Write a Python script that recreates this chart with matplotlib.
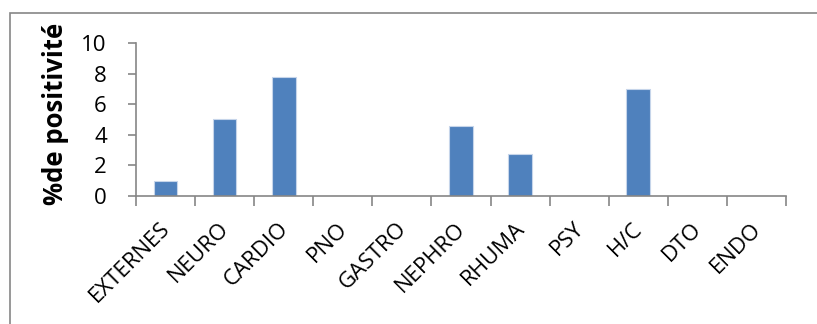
import matplotlib.pyplot as plt
import numpy as np
from matplotlib.patches import Rectangle
from matplotlib.transforms import ScaledTranslation

plt.rcParams['font.family'] = ['Open Sans', 'DejaVu Sans']

categories = ['EXTERNES', 'NEURO', 'CARDIO', 'PNO', 'GASTRO', 'NEPHRO',
              'RHUMA', 'PSY', 'H/C', 'DTO', 'ENDO']
values = [1.0, 5.05, 7.8, 0, 0, 4.6, 2.75, 0, 7.0, 0, 0]

fig = plt.figure(figsize=(8.17, 3.24), dpi=100)
# outer chart frame (cut off at right and bottom in the original)
fig.patches.append(Rectangle((10 / 817, -0.1), 1.0, 1 - 13 / 324 + 0.1,
                             transform=fig.transFigure, fill=False,
                             edgecolor='#868686', linewidth=1.2))

ax = fig.add_axes([136 / 817, 1 - 196 / 324, 650 / 817, 153 / 324])
x = np.arange(len(categories)) + 0.5
ax.bar(x, values, width=0.4, color='#4F81BD', edgecolor='#C6D5EA', linewidth=0.8)

ax.set_xlim(0, len(categories))
ax.set_ylim(0, 10)
ax.set_yticks(range(0, 11, 2))
ax.tick_params(axis='y', labelsize=16, length=6, width=1.2, color='#868686', pad=15)

ax.set_xticks(x)
ax.set_xticklabels(categories, rotation=45, ha='right', va='top',
                   rotation_mode='anchor', fontsize=16)
ax.tick_params(axis='x', length=0, pad=16)
ax.set_xticks(np.arange(len(categories) + 1), minor=True)
ax.tick_params(axis='x', which='minor', length=7, width=1.2, color='#868686')
shift = ScaledTranslation(-6 / 100, 0, fig.dpi_scale_trans)
for lab in ax.get_xticklabels():
    lab.set_transform(lab.get_transform() + shift)

for side in ['top', 'right']:
    ax.spines[side].set_visible(False)
for side in ['left', 'bottom']:
    ax.spines[side].set_color('#868686')
    ax.spines[side].set_linewidth(1.2)

ax.set_ylabel('%de positivité', fontsize=18.5, fontweight='bold')
ax.yaxis.set_label_coords(-0.103, 0.54)

fig.savefig('out.png', dpi=100)
